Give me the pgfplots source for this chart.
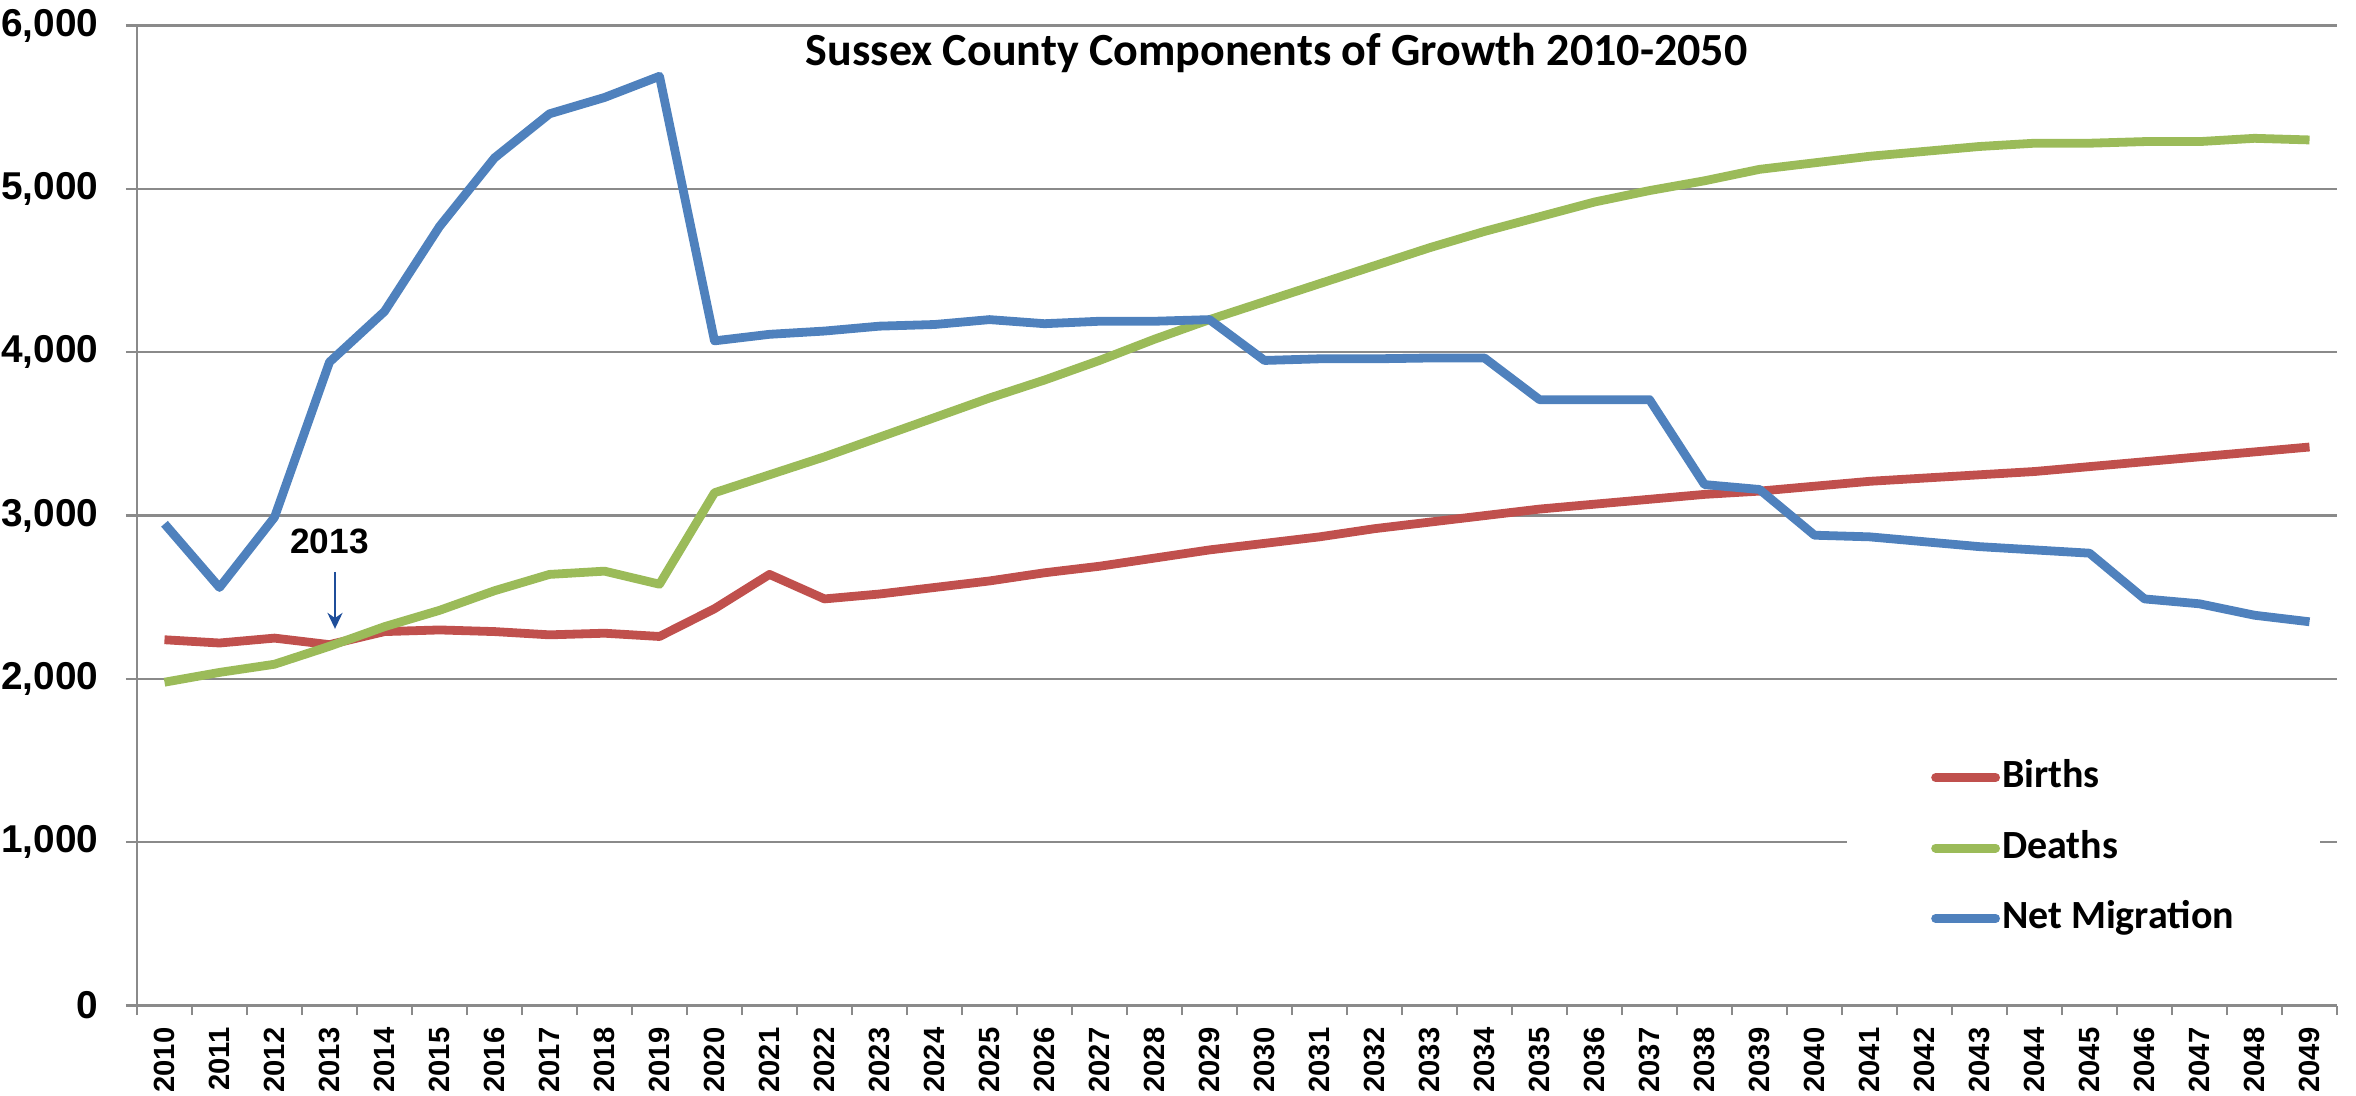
\documentclass[border=0pt]{standalone}
\usepackage{pgfplots}
\pgfplotsset{compat=1.18}
\usetikzlibrary{arrows.meta}
\usepackage{fontspec}
\setmainfont{Liberation Sans}
\newfontfamily\calibri{Carlito}
\definecolor{cred}{RGB}{192,80,77}
\definecolor{cgreen}{RGB}{155,187,89}
\definecolor{cblue}{RGB}{79,129,189}
\definecolor{gridgray}{RGB}{138,138,138}
\definecolor{arrowblue}{RGB}{31,78,154}
\pgfplotstableread{
x births deaths netmig
0 2240 1980 2950
1 2220 2040 2560
2 2250 2090 2990
3 2210 2200 3940
4 2290 2320 4250
5 2300 2420 4770
6 2290 2540 5190
7 2270 2640 5460
8 2280 2660 5560
9 2260 2580 5690
10 2430 3140 4070
11 2640 3250 4110
12 2490 3360 4130
13 2520 3480 4160
14 2560 3600 4170
15 2600 3720 4200
16 2650 3830 4175
17 2690 3950 4190
18 2740 4080 4190
19 2790 4200 4200
20 2830 4310 3950
21 2870 4420 3960
22 2920 4530 3960
23 2960 4640 3965
24 3000 4740 3965
25 3040 4830 3710
26 3070 4920 3710
27 3100 4990 3710
28 3130 5050 3190
29 3150 5120 3160
30 3180 5160 2880
31 3210 5200 2870
32 3230 5230 2840
33 3250 5260 2810
34 3270 5280 2790
35 3300 5280 2770
36 3330 5290 2490
37 3360 5290 2460
38 3390 5310 2390
39 3420 5300 2350
}\datatable
\begin{document}
\begin{tikzpicture}
\begin{axis}[
  scale only axis, width=550pt, height=245pt,
  xmin=-0.5, xmax=39.5, ymin=0, ymax=6000,
  axis x line=bottom, axis y line=left,
  axis line style={draw=gridgray, line width=0.6pt, -},
  xtick={0,...,39},
  major x tick style={draw=none},
  minor xtick={-0.5,0.5,...,39.5},
  minor x tick style={draw=gridgray, line width=0.6pt},
  minor tick length=2.4pt,
  ytick={0,1000,...,6000},
  major y tick style={draw=gridgray, line width=0.6pt},
  major tick length=2.8pt,
  tick align=outside,
  ymajorgrids, grid style={draw=gridgray, line width=0.6pt},
  xticklabel={\pgfmathtruncatemacro\yr{2010+\tick}\yr},
  xticklabel shift=1.5pt,
  xticklabel style={rotate=90, anchor=east, font=\bfseries\fontsize{7.3}{8.5}\selectfont, inner sep=1pt},
  yticklabel style={font=\bfseries\fontsize{9.7}{11}\selectfont, xshift=-3.3pt},
  /pgf/number format/1000 sep={,},
  /pgf/number format/assume math mode=true,
  legend cell align=left,
  legend image code/.code={\draw[#1, line cap=round] (0pt,0pt) -- (15pt,0pt);},
  legend style={draw=none, fill=white, at={(rel axis cs:0.777,0.035)}, anchor=south west,
    inner xsep=21pt, inner ysep=8pt,
    font=\calibri\bfseries\fontsize{10}{12}\selectfont,
    row sep=7.6pt,
    nodes={inner sep=0.5pt, text height=7pt, text depth=2pt}},
  every axis plot/.append style={line width=2.2pt, line join=round},
]
\addplot[cred] table[x=x, y=births] {\datatable};
\addlegendentry{Births}
\addplot[cgreen] table[x=x, y=deaths] {\datatable};
\addlegendentry{Deaths}
\addplot[cblue] table[x=x, y=netmig] {\datatable};
\addlegendentry{Net Migration}
\node[font=\calibri\bfseries\fontsize{11.5}{13}\selectfont] at (rel axis cs:0.518,0.972) {Sussex County Components of Growth 2010-2050};
\node[font=\bfseries\fontsize{8.8}{10}\selectfont] at (axis cs:3.0,2845) {2013};
\draw[arrowblue, line width=0.5pt, -{Stealth[length=4pt,width=3.8pt]}] (axis cs:3.1,2656) -- (axis cs:3.1,2307);
\end{axis}
\pgfresetboundingbox
\path (-34.25pt,-22.5pt) rectangle (554.75pt,251.4pt);
\end{tikzpicture}
\end{document}
